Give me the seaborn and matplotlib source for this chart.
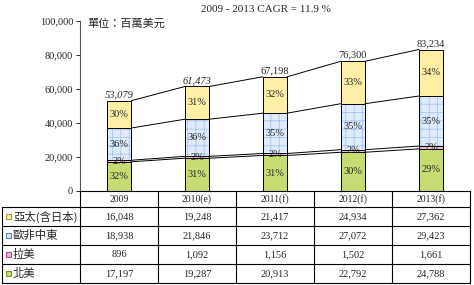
import numpy as np
import matplotlib.pyplot as plt
import seaborn as sns
from matplotlib.patches import Rectangle

# data
years = ["2009", "2010(e)", "2011(f)", "2012(f)", "2013(f)"]
series = ["亞太(含日本)", "歐非中東", "拉美", "北美"]
apac = [16048, 19248, 21417, 24934, 27362]
emea = [18938, 21846, 23712, 27072, 29423]
latam = [896, 1092, 1156, 1502, 1661]
namer = [17197, 19287, 20913, 22792, 24788]
totals = [53079, 61473, 67198, 76300, 83234]
pct_apac = [30, 31, 32, 33, 34]
pct_emea = [36, 36, 35, 35, 35]
pct_latam = [2, 2, 2, 2, 2]
pct_namer = [32, 31, 31, 30, 29]
y_ticks = [0, 20000, 40000, 60000, 80000, 100000]

sns.set_style("white")
plt.rcParams['font.family'] = ['Liberation Serif', 'Noto Sans CJK TC']
plt.rcParams['hatch.linewidth'] = 0.5
cjk = ['Noto Sans CJK TC', 'DejaVu Sans']

c_apac = "#fdf0a6"
c_emea = "#dfebfa"
c_latam = "#eeb4d6"
c_namer = "#c6dc72"
edge_cols = ["#a89a30", "#5a82b8", "#b0508a", "#7a9a2a"]

fig = plt.figure(figsize=(4.74, 2.85), dpi=100)
ax = fig.add_axes([80/474, 1-191/285, 390/474, 170/285])

# stacked bars drawn as overlapping cumulative bars
lvl_namer = np.array(namer)
lvl_latam = lvl_namer + np.array(latam)
lvl_emea = lvl_latam + np.array(emea)
lvl_apac = lvl_emea + np.array(apac)

bw = 0.31
layers = [(lvl_apac, c_apac), (lvl_emea, c_emea), (lvl_latam, c_latam), (lvl_namer, c_namer)]
for vals, col in layers:
    n0 = len(ax.patches)
    sns.barplot(x=years, y=vals, color=col, width=bw, saturation=1,
                edgecolor="black", linewidth=0.7, ax=ax)
    if col == c_emea:
        for p in ax.patches[n0:]:
            p.set_hatch("++")
            p.set_edgecolor("#9ec0ec")
            p.set_linewidth(0)
            ax.add_patch(Rectangle(p.get_xy(), p.get_width(), p.get_height(),
                                   fill=False, edgecolor="black", lw=0.7, zorder=p.get_zorder()))

# series lines between bars
for lvl in [lvl_namer, lvl_latam, lvl_emea, lvl_apac]:
    for i in range(len(years) - 1):
        ax.plot([i + bw/2, i + 1 - bw/2], [lvl[i], lvl[i+1]], color="black", lw=0.7, zorder=1)

# percentage labels
for i in range(len(years)):
    bottoms = [0, lvl_namer[i], lvl_latam[i], lvl_emea[i]]
    heights = [namer[i], latam[i], emea[i], apac[i]]
    pcts = [pct_namer[i], pct_latam[i], pct_emea[i], pct_apac[i]]
    for b, h, pc in zip(bottoms, heights, pcts):
        ax.text(i, b + h/2, f"{pc}%", ha="center", va="center", fontsize=7.5, zorder=5)
    ax.text(i, totals[i] + 900, f"{totals[i]:,}", ha="center", va="bottom", fontsize=7.5,
            style="italic" if i < 2 else "normal")

ax.set_xlim(-0.5, 4.5)
ax.set_ylim(0, 100000)
ax.set_yticks(y_ticks)
ax.set_yticklabels([f"{v:,}" for v in y_ticks], fontsize=7.5)
ax.set_xticks([])
ax.set_xlabel("")
ax.tick_params(axis="y", length=3, width=0.7, direction="out", left=True, pad=2)
for s in ["top", "right"]:
    ax.spines[s].set_visible(False)
ax.spines["left"].set_color("#555555")
ax.spines["bottom"].set_color("black")
ax.spines["left"].set_linewidth(0.8)
ax.spines["bottom"].set_linewidth(0.8)

ax.text(0.02, 0.985, "單位：百萬美元", transform=ax.transAxes, fontsize=8,
        family=cjk, va="center", ha="left")
fig.text(266/474, 1-9/285, "2009 - 2013 CAGR = 11.9 %", ha="center", va="center", fontsize=8)

# data table under the chart
tax = fig.add_axes([2/474, 1-283/285, 468/474, 92/285])
tax.set_xlim(-1.5, 4.5)
tax.set_ylim(92, 0)
tax.axis("off")
rows_y = [0, 16, 35, 54, 73, 92]
for y in rows_y[1:]:
    tax.plot([-1.5, 4.5], [y, y], color="black", lw=0.8, clip_on=False)
tax.plot([-1.5, -1.5], [16, 92], color="black", lw=0.8, clip_on=False)
for x in np.arange(-0.5, 4.6, 1):
    tax.plot([x, x], [0, 92], color="black", lw=0.8, clip_on=False)

for i, yr in enumerate(years):
    tax.text(i, 8, yr, ha="center", va="center", fontsize=7)

table_vals = [apac, emea, latam, namer]
key_cols = [c_apac, c_emea, c_latam, c_namer]
for r, (name, vals) in enumerate(zip(series, table_vals)):
    yc = (rows_y[r+1] + rows_y[r+2]) / 2
    tax.add_patch(Rectangle((-1.5 + 4/78, yc - 2.5), 5/78, 5, facecolor=key_cols[r],
                            edgecolor=edge_cols[r], lw=0.8, clip_on=False))
    tax.text(-1.5 + 11/78, yc, name, ha="left", va="center", fontsize=8.2, family=cjk)
    for i, v in enumerate(vals):
        tax.text(i, yc, f"{v:,}", ha="center", va="center", fontsize=7.5)

fig.savefig("out.png", dpi=100)
